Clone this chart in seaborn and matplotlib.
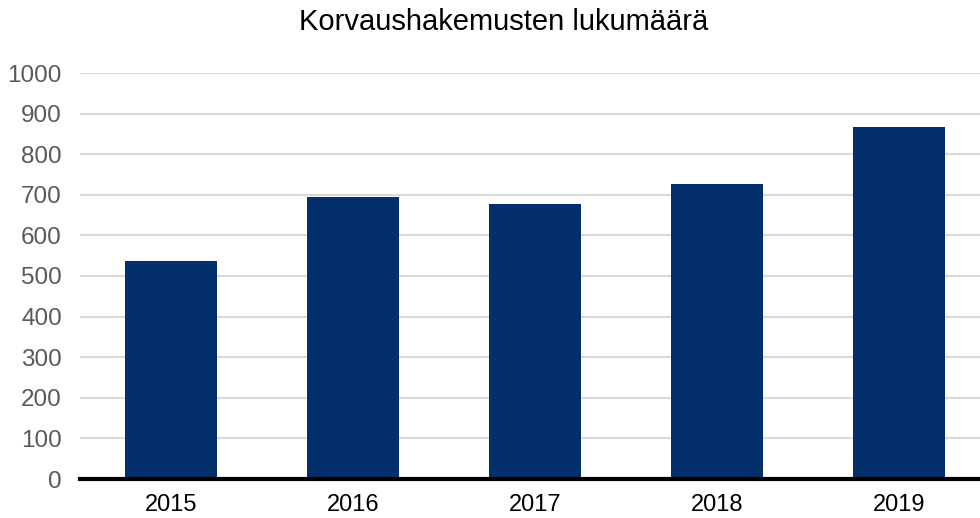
import pandas as pd
import seaborn as sns
import matplotlib.pyplot as plt

sns.set_style("white")
plt.rcParams['font.family'] = ['Liberation Sans', 'DejaVu Sans']

# data
years = ['2015', '2016', '2017', '2018', '2019']
counts = [537, 695, 677, 727, 866]
title = 'Korvaushakemusten lukumäärä'

df = pd.DataFrame({'vuosi': years, 'lkm': counts})

bar_color = '#03306b'
grid_color = '#d9d9d9'
tick_color = '#595959'

fig = plt.figure(figsize=(9.8, 5.18), dpi=100)
ax = fig.add_axes([80 / 980, 39 / 518, 910 / 980, 406 / 518])

sns.barplot(data=df, x='vuosi', y='lkm', color=bar_color, width=0.51,
            saturation=1, linewidth=0, ax=ax, zorder=3)

ax.set_ylim(0, 1000)
ax.set_xlim(-0.5, 4.5)
ax.set_yticks(range(0, 1001, 100))
ax.yaxis.grid(True, color=grid_color, linewidth=1.5, zorder=0)
ax.set_axisbelow(True)

for s in ['top', 'right', 'left']:
    ax.spines[s].set_visible(False)
ax.spines['bottom'].set_color('black')
ax.spines['bottom'].set_linewidth(3)
ax.spines['bottom'].set_zorder(5)

ax.tick_params(axis='y', length=0, labelsize=17.5, labelcolor=tick_color, pad=13)
ax.tick_params(axis='x', length=0, labelsize=17, labelcolor='black', pad=11)
ax.set_xlabel('')
ax.set_ylabel('')

fig.text(504 / 980, 1 - 22 / 518, title, ha='center', va='center',
         fontsize=21, color='black')

plt.savefig('out.png', dpi=100)
